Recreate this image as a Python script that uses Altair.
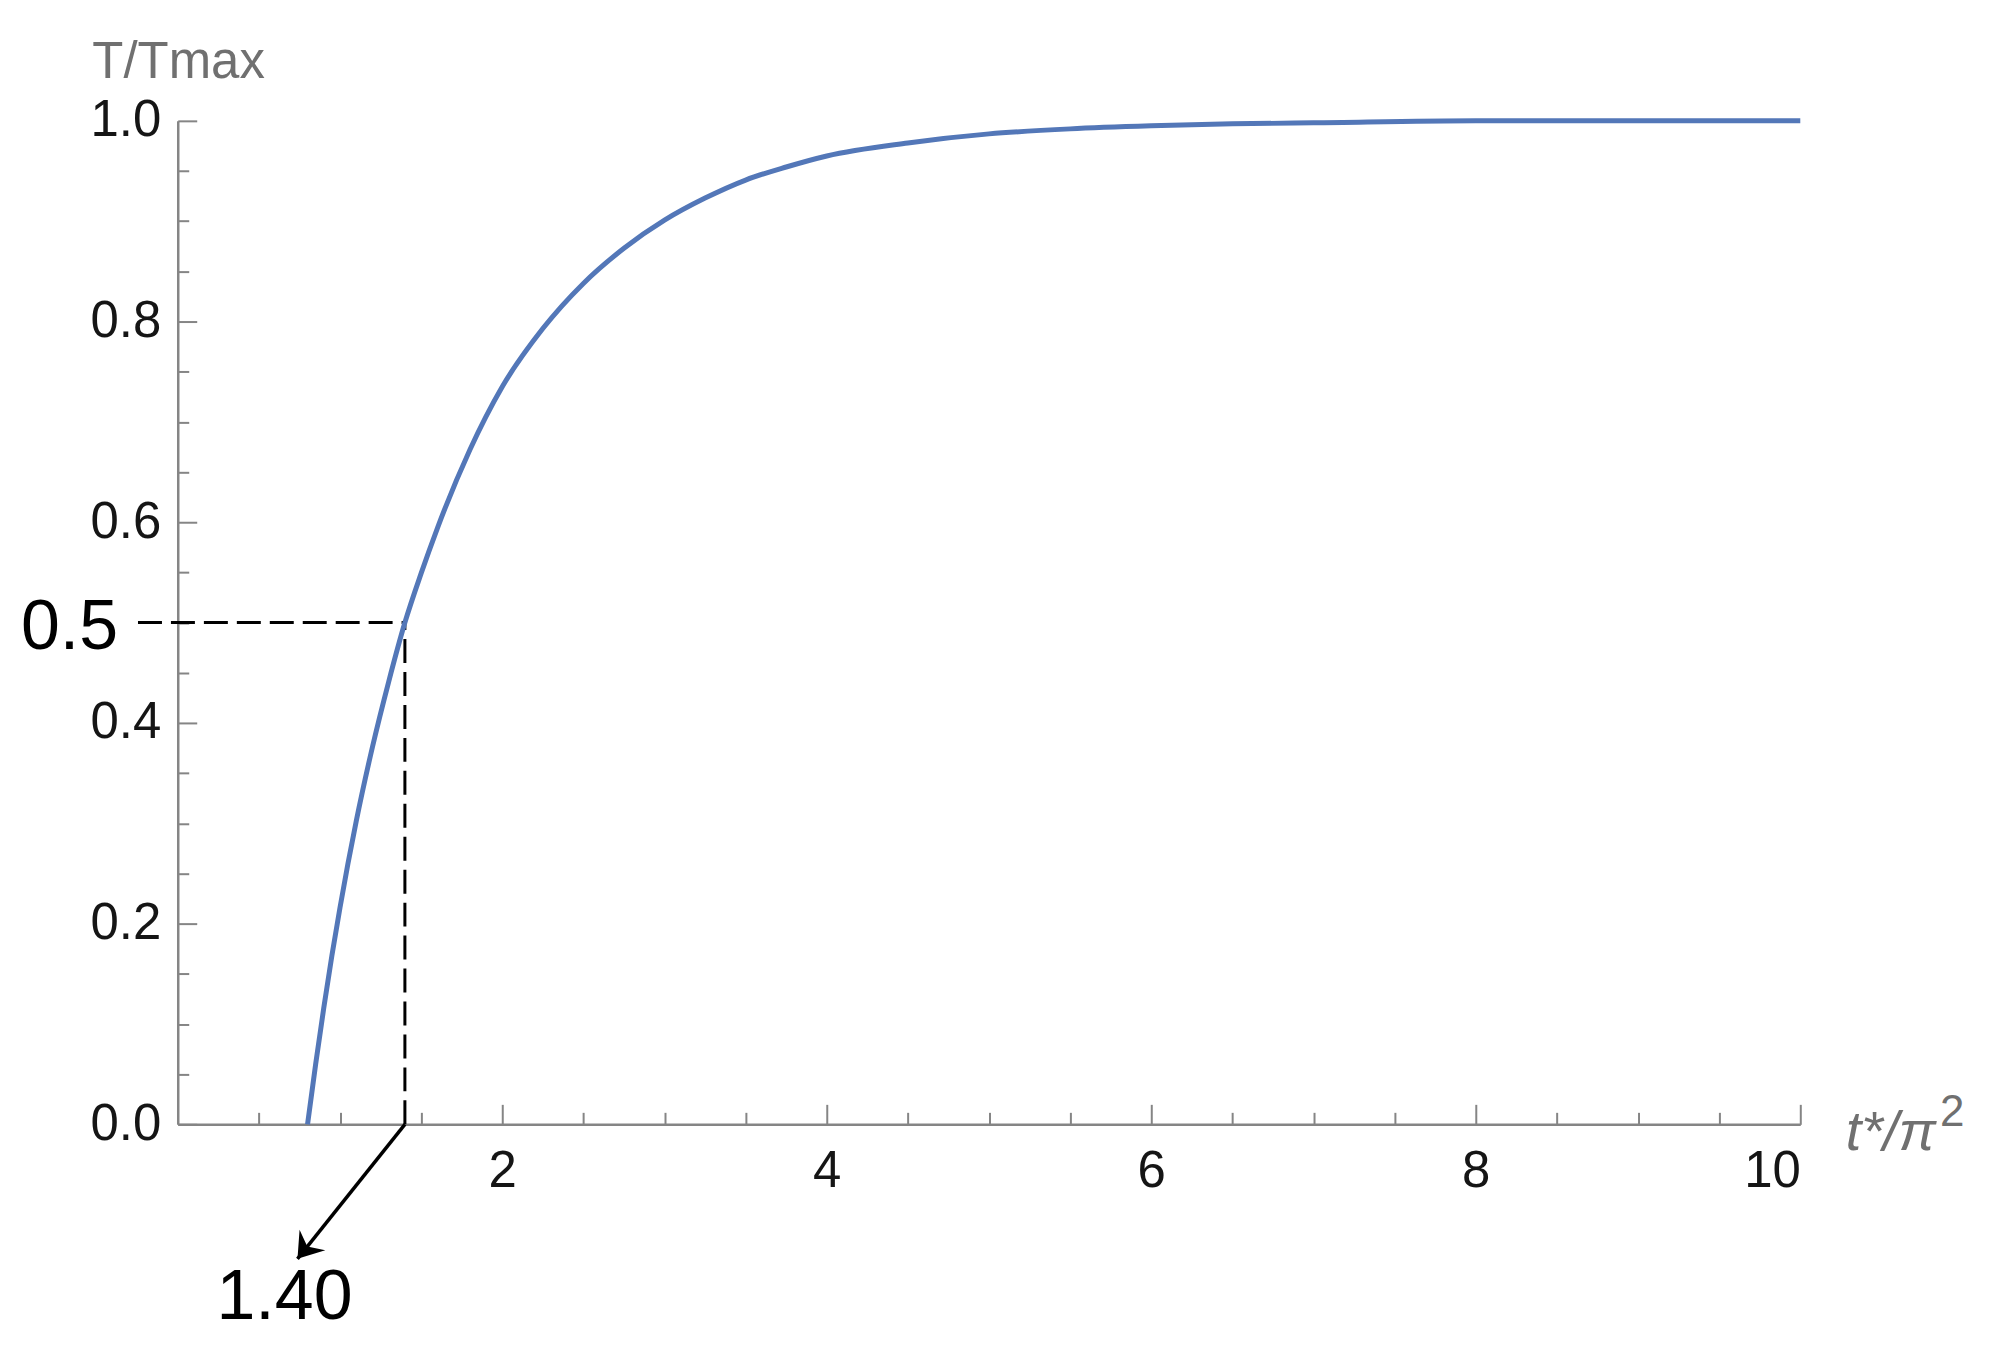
import math
import altair as alt
import pandas as pd

# ---- data ----
t_star = [0.80, 0.85, 0.90, 0.95, 1.00, 1.10, 1.20, 1.30, 1.40, 1.50, 1.60, 1.80,
          2.00, 2.25, 2.50, 2.75, 3.00, 3.25, 3.50, 3.75, 4.00, 4.50, 5.00, 5.50,
          6.00, 6.50, 7.00, 8.00, 9.00, 10.00]
T_ratio = [0.000, 0.060, 0.116, 0.168, 0.216, 0.302, 0.376, 0.441, 0.500, 0.549, 0.594, 0.672,
           0.735, 0.793, 0.838, 0.873, 0.901, 0.923, 0.941, 0.954, 0.965, 0.978, 0.987, 0.992,
           0.995, 0.997, 0.998, 1.000, 1.000, 1.000]

x_labels = [2, 4, 6, 8, 10]
y_labels = [0.0, 0.2, 0.4, 0.6, 0.8, 1.0]
x_ticks = [0.5, 1.0, 1.5, 2.0, 2.5, 3.0, 3.5, 4.0, 4.5, 5.0, 5.5, 6.0, 6.5, 7.0,
           7.5, 8.0, 8.5, 9.0, 9.5, 10.0]
y_ticks = [0.0, 0.05, 0.1, 0.15, 0.2, 0.25, 0.3, 0.35, 0.4, 0.45, 0.5, 0.55, 0.6,
           0.65, 0.7, 0.75, 0.8, 0.85, 0.9, 0.95, 1.0]

half_T = 0.5
half_t = 1.40
half_label = "1.40"
half_T_label = "0.5"
dash_start_t = -0.245
arrow_end_t = 0.738
arrow_end_T = -0.134

x_domain = [0, 10]
y_domain = [0, 1]

# ---- style ----
W, H = 1625, 1005
FONT = "Liberation Sans"
AX = "#858585"
TITLE_C = "#707070"
LABEL_C = "#151515"
BLUE = "#5377b8"

xs = alt.Scale(domain=x_domain, nice=False, zero=False)
ys = alt.Scale(domain=y_domain, nice=False, zero=False)

curve_df = pd.DataFrame({"t": t_star, "T": T_ratio})

curve = alt.Chart(curve_df).mark_line(
    color=BLUE, strokeWidth=5, interpolate="monotone"
).encode(
    x=alt.X("t:Q", scale=xs, axis=alt.Axis(
        orient="bottom", values=x_labels, format="d", ticks=False, tickSize=0,
        grid=False, domainColor=AX, domainWidth=2.5,
        labelFont=FONT, labelFontSize=51, labelColor=LABEL_C, labelPadding=22,
        title="t*/π", titleFont=FONT, titleFontSize=56, titleFontStyle="italic",
        titleFontWeight="normal", titleColor=TITLE_C, titleX=1670, titleY=25,
        titleAlign="left", titleBaseline="alphabetic", titleAnchor="start")),
    y=alt.Y("T:Q", scale=ys, axis=alt.Axis(
        orient="left", values=y_labels, format=".1f", ticks=False, tickSize=0,
        grid=False, domainColor=AX, domainWidth=2.5,
        labelFont=FONT, labelFontSize=51, labelColor=LABEL_C, labelPadding=17,
        title="T/Tmax", titleFont=FONT, titleFontSize=51, titleFontWeight="normal",
        titleColor=TITLE_C, titleAngle=0, titleX=-86, titleY=-43,
        titleAlign="left", titleBaseline="alphabetic", titleAnchor="start")),
)

# vertical dashed guide; its axes carry the inward tick marks
vdash_df = pd.DataFrame({"t": [half_t], "T0": [0.0], "T1": [half_T]})
vdash = alt.Chart(vdash_df).mark_rule(
    color="black", strokeWidth=3, strokeDash=[24, 9]
).encode(
    x=alt.X("t:Q", scale=xs, axis=alt.Axis(
        orient="top", offset=-H, values=x_ticks, domain=False, labels=False,
        ticks=True, grid=False, title=None, tickColor=AX, tickWidth=2,
        tickSize={"condition": {"test": "datum.value % 2 === 0", "value": 20}, "value": 12})),
    y=alt.Y("T0:Q", scale=ys, axis=alt.Axis(
        orient="right", offset=-W, values=y_ticks, domain=False, labels=False,
        ticks=True, grid=False, title=None, tickColor=AX, tickWidth=2,
        tickSize={"condition": {"test": "abs(datum.value*5 - round(datum.value*5)) < 0.001",
                                "value": 19}, "value": 11})),
    y2="T1:Q",
)

hdash_df = pd.DataFrame({"t0": [dash_start_t], "t1": [half_t], "T": [half_T]})
hdash = alt.Chart(hdash_df).mark_rule(
    color="black", strokeWidth=3, strokeDash=[24, 9]
).encode(
    x=alt.X("t0:Q", scale=xs, axis=None),
    x2="t1:Q",
    y=alt.Y("T:Q", scale=ys, axis=None),
)

arrow_df = pd.DataFrame({"t0": [half_t], "T0": [0.0], "t1": [arrow_end_t], "T1": [arrow_end_T],
                         "lab": [half_label]})
arrow_line = alt.Chart(arrow_df).mark_rule(color="black", strokeWidth=3.5).encode(
    x=alt.X("t0:Q", scale=xs, axis=None),
    y=alt.Y("T0:Q", scale=ys, axis=None),
    x2="t1:Q",
    y2="T1:Q",
)

# arrow head orientation from the pixel direction of the arrow
dxp = (arrow_end_t - half_t) / (x_domain[1] - x_domain[0]) * W
dyp = -(arrow_end_T - 0.0) / (y_domain[1] - y_domain[0]) * H
angle = (math.degrees(math.atan2(dxp, -dyp)) + 360) % 360

arrow_head = alt.Chart(arrow_df).mark_point(
    shape="M0,0 L1.1,1.6 L0,1.05 L-1.1,1.6 Z", filled=True, color="black",
    opacity=1, size=900, angle=angle, strokeWidth=0
).encode(
    x=alt.X("t1:Q", scale=xs, axis=None),
    y=alt.Y("T1:Q", scale=ys, axis=None),
)

arrow_text = alt.Chart(arrow_df).mark_text(
    font=FONT, fontSize=70, color="black", align="center", baseline="top", dx=-13, dy=5
).encode(
    x=alt.X("t1:Q", scale=xs, axis=None),
    y=alt.Y("T1:Q", scale=ys, axis=None),
    text="lab:N",
)

half_df = pd.DataFrame({"t": [dash_start_t], "T": [half_T], "lab": [half_T_label]})
half_text = alt.Chart(half_df).mark_text(
    font=FONT, fontSize=70, color="black", align="right", baseline="middle", dx=-20, dy=5
).encode(
    x=alt.X("t:Q", scale=xs, axis=None),
    y=alt.Y("T:Q", scale=ys, axis=None),
    text="lab:N",
)

sup_df = pd.DataFrame({"t": [x_domain[1]], "T": [0.0], "lab": ["2"]})
sup_text = alt.Chart(sup_df).mark_text(
    font=FONT, fontSize=44, color=TITLE_C, align="left", baseline="alphabetic", dx=140, dy=2
).encode(
    x=alt.X("t:Q", scale=xs, axis=None),
    y=alt.Y("T:Q", scale=ys, axis=None),
    text="lab:N",
)

chart = alt.layer(
    hdash, vdash, curve, arrow_line, arrow_head, arrow_text, half_text, sup_text
).resolve_scale(x="shared", y="shared").resolve_axis(
    x="independent", y="independent"
).properties(
    width=W, height=H,
    autosize=alt.AutoSizeParams(type="none"),
    padding={"left": 170, "top": 112, "right": 190, "bottom": 220},
    background="white",
).configure_view(stroke=None)

chart.save("out.html", embed_options={"renderer": "svg", "actions": False})
